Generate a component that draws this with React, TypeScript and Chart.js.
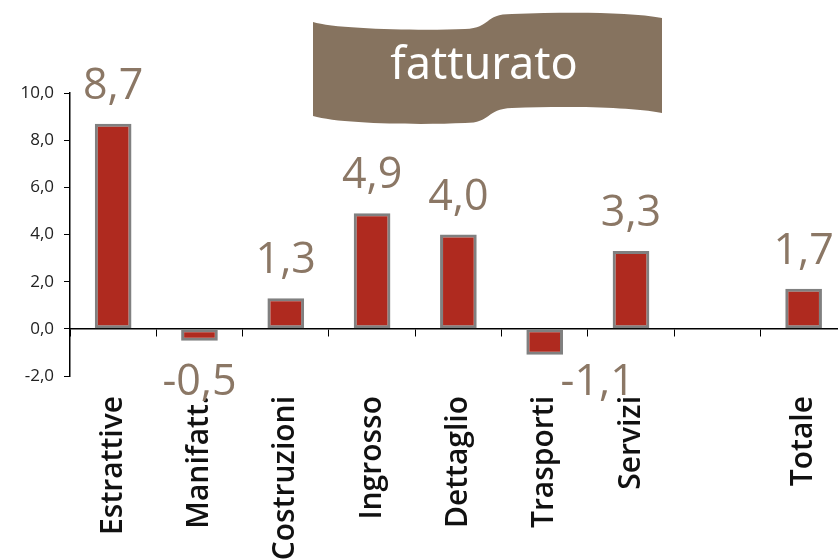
import React, { useEffect, useRef } from 'react';
import { Chart, registerables } from 'chart.js';

Chart.register(...registerables);

const categories = ['Estrattive', 'Manifatt.', 'Costruzioni', 'Ingrosso', 'Dettaglio', 'Trasporti', ' Servizi', '', 'Totale'];
const values: (number | null)[] = [8.7, -0.5, 1.3, 4.9, 4.0, -1.1, 3.3, null, 1.7];
const yTicks = [-2, 0, 2, 4, 6, 8, 10];
const titleText = 'fatturato';

const fmt = (v: number) => v.toFixed(1).replace('.', ',');

const LABEL_COLOR = '#8B7765';
const BANNER_COLOR = '#86735F';

const bannerPlugin = {
  id: 'banner',
  afterDraw(chart: any) {
    const ctx = chart.ctx;
    ctx.save();
    ctx.fillStyle = BANNER_COLOR;
    ctx.beginPath();
    ctx.moveTo(313, 22);
    ctx.bezierCurveTo(335, 29, 420, 31, 465, 29);
    ctx.bezierCurveTo(492, 28, 483, 14, 512, 14);
    ctx.bezierCurveTo(570, 12, 630, 12, 662, 18);
    ctx.lineTo(662, 113);
    ctx.bezierCurveTo(630, 107, 570, 106, 512, 108);
    ctx.bezierCurveTo(485, 109, 492, 123, 465, 123);
    ctx.bezierCurveTo(420, 125, 340, 124, 313, 116);
    ctx.closePath();
    ctx.fill();
    ctx.fillStyle = '#ffffff';
    ctx.font = '45px "Noto Sans"';
    ctx.textAlign = 'center';
    ctx.textBaseline = 'alphabetic';
    ctx.fillText(titleText, 484, 79);
    ctx.restore();
  },
};

const labelNudges: Record<number, [number, number]> = { 5: [53, -14] };

const valueLabelPlugin = {
  id: 'valueLabels',
  afterDatasetsDraw(chart: any) {
    const ctx = chart.ctx;
    const meta = chart.getDatasetMeta(0);
    ctx.save();
    ctx.fillStyle = LABEL_COLOR;
    ctx.font = '500 43px "Open Sans"';
    ctx.textAlign = 'center';
    ctx.textBaseline = 'alphabetic';
    meta.data.forEach((bar: any, i: number) => {
      const v = values[i];
      if (v === null || v === undefined) return;
      const { x, y } = bar.getProps(['x', 'y'], true);
      if (v >= 0) {
        ctx.fillText(fmt(v), x, y - 25);
      } else {
        const n = labelNudges[i] || [0, 0];
        ctx.fillText(fmt(v), x + n[0], y + 54 + n[1]);
      }
    });
    ctx.restore();
  },
};

export default function App() {
  const ref = useRef<HTMLCanvasElement | null>(null);

  useEffect(() => {
    if (!ref.current) return;
    const chart = new Chart(ref.current, {
      type: 'bar',
      data: {
        labels: categories,
        datasets: [
          {
            data: values as any,
            backgroundColor: '#AF2A1F',
            borderColor: '#808080',
            borderWidth: 3,
            borderSkipped: false,
            barPercentage: 0.425,
            categoryPercentage: 1,
          },
        ],
      },
      options: {
        responsive: false,
        animation: false,
        devicePixelRatio: 1,
        layout: { padding: { top: 93, right: 7, left: 0, bottom: 0 } },
        plugins: {
          legend: { display: false },
          tooltip: { enabled: false },
          title: { display: false },
        },
        scales: {
          x: {
            type: 'category',
            position: 'bottom',
            offset: true,
            grid: { display: false, drawTicks: false },
            border: { display: false },
            ticks: {
              minRotation: 90,
              maxRotation: 90,
              autoSkip: false,
              padding: 20,
              color: '#111111',
              font: { family: '"Open Sans"', size: 30, weight: '600' },
            },
            afterFit: (s: any) => {
              s.height = 184;
            },
          },
          x2: {
            type: 'category',
            position: { y: 0 },
            offset: true,
            grid: { drawOnChartArea: false, drawTicks: true, tickLength: 7, color: '#000000', offset: true, lineWidth: 1 },
            border: { display: true, color: '#000000', width: 1.5 },
            ticks: { display: false },
          },
          y: {
            type: 'linear',
            min: -2,
            max: 10,
            afterBuildTicks: (s: any) => {
              s.ticks = yTicks.map((v) => ({ value: v }));
            },
            ticks: {
              padding: 10,
              color: '#222222',
              font: { family: '"Open Sans"', size: 17 },
              callback: (v: any) => fmt(Number(v)),
            },
            grid: { drawOnChartArea: false, drawTicks: true, tickLength: 6, color: '#000000' },
            border: { display: true, color: '#000000', width: 1.5 },
            afterFit: (s: any) => {
              s.width = 70;
            },
          },
        } as any,
      },
      plugins: [bannerPlugin, valueLabelPlugin],
    });
    return () => chart.destroy();
  }, []);

  return (
    <div
      style={{
        position: 'fixed',
        left: 0,
        top: 0,
        width: 838,
        height: 560,
        overflow: 'hidden',
        background: '#ffffff',
      }}
    >
      <canvas ref={ref} width={860} height={560} style={{ width: 860, height: 560, display: 'block' }} />
    </div>
  );
}
